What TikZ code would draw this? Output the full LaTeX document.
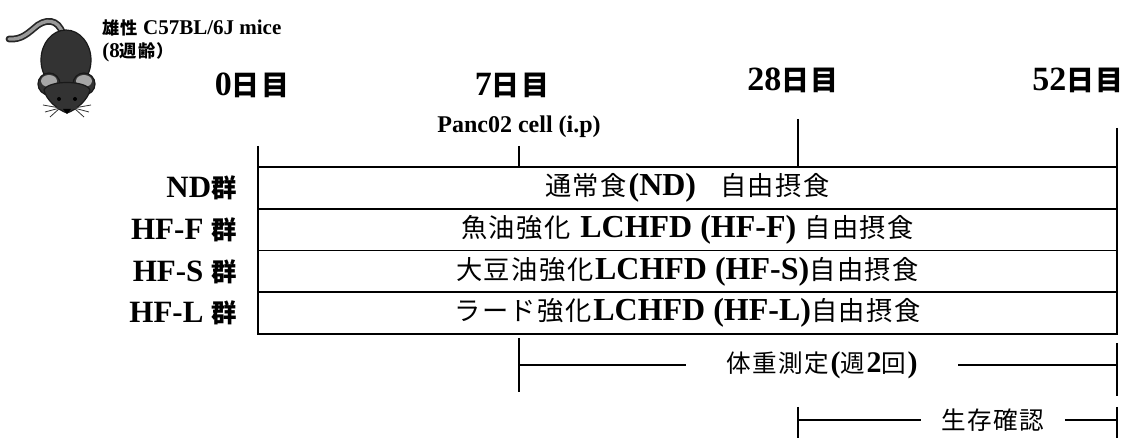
\documentclass[tikz,border=0pt]{standalone}
\usepackage{fontspec}
\setmainfont{Liberation Serif}
\newfontfamily\jp[Scale=0.82, LetterSpace=6]{Noto Sans CJK JP}
\usetikzlibrary{positioning,calc}
\tikzstyle{grp}=[draw=black, line width=0.8pt, minimum width=429.5pt,
        minimum height=20.875pt, inner sep=0pt, outer sep=0pt,
        font=\fontsize{16}{18}\selectfont]
\tikzstyle{day}=[font=\fontsize{17}{20}\selectfont\bfseries, inner sep=0pt]
\tikzstyle{lbl}=[font=\fontsize{15.5}{18}\selectfont\bfseries, inner sep=0pt]
\tikzstyle{tick}=[line width=1.1pt]
\tikzstyle{span}=[line width=0.7pt]
\tikzstyle{note}=[font=\fontsize{15}{17}\selectfont, inner xsep=10pt]
\def\tailpath{(64,40) .. controls (62,22) and (50,17) .. (38,25)
        .. controls (28,33) and (22,40) .. (9,39)}

\begin{document}
\begin{tikzpicture}[x=0.5pt, y=-0.5pt]
        \useasboundingbox (0,0) rectangle (1131,438);

        % mouse
        \draw[line width=3.4pt, line cap=round, black!85] \tailpath;
        \draw[line width=1.7pt, line cap=round, black!40] \tailpath;
        \filldraw[fill=black!80, draw=black!90, line width=0.6pt]
            (66,60) ellipse [x radius=25, y radius=30];
        \foreach \ex in {49,84} {
            \filldraw[fill=black!80, draw=black!90, line width=0.6pt]
                (\ex,84) circle [radius=11];
            \fill[black!35] (\ex,81) ellipse [x radius=8, y radius=6];
        }
        \filldraw[fill=black!80, draw=black!90, line width=0.6pt]
            (44,90) .. controls (46,100) and (58,110) .. (67,113)
            .. controls (76,110) and (88,100) .. (90,90)
            .. controls (86,80) and (48,80) .. (44,90) -- cycle;
        \fill (59,99) circle [radius=2] (75,99) circle [radius=2];
        \fill (63,109) -- (71,109) -- (67,114) -- cycle;
        \foreach \wx/\wy in {43/105, 45/112, 50/117} {
            \draw[black!80, line width=0.4pt] (60,108) -- (\wx,\wy);
            \draw[black!80, line width=0.4pt] (74,108) -- (134-\wx,\wy);
        }
        \node[anchor=north west, align=left, inner sep=0pt,
            font=\fontsize{10.5}{11.5}\selectfont\bfseries] (m) at (102,19)
            {{\jp 雄性} C57BL/6J mice\\(8{\jp 週齢）}};

        % diet groups
        \node[grp] (g1) at (687.5,187.9)
            {{\jp 通常食}\textbf{(ND)}\hspace{12pt}{\jp 自由摂食}};
        \node[grp, below=0pt of g1] (g2)
            {{\jp 魚油強化} \textbf{LCHFD (HF-F)} {\jp 自由摂食}};
        \node[grp, below=0pt of g2] (g3)
            {{\jp 大豆油強化}\textbf{LCHFD (HF-S)}{\jp 自由摂食}};
        \node[grp, below=0pt of g3] (g4)
            {{\jp ラード強化}\textbf{LCHFD (HF-L)}{\jp 自由摂食}};
        \node[lbl, left=10.5pt of g1] (l1) {ND{\jp 群}};
        \node[lbl, left=10.5pt of g2] (l2) {HF-F {\jp 群}};
        \node[lbl, left=10.5pt of g3] (l3) {HF-S {\jp 群}};
        \node[lbl, left=10.5pt of g4] (l4) {HF-L {\jp 群}};

        % days
        \node[day] (d0) at (252,85) {0{\jp 日目}};
        \node[day] (d7) at (512,85) {7{\jp 日目}};
        \node[day] (d28) at (793,80) {28{\jp 日目}};
        \node[day] (d52) at (1078,80) {52{\jp 日目}};
        \node[font=\fontsize{12}{14}\selectfont\bfseries] (p)
            at (519,127) {Panc02 cell (i.p)};
        \coordinate (t0) at (258,146);
        \coordinate (t7) at (519,146);
        \coordinate (t28) at (798,119);
        \coordinate (t52) at (1117,128);
        \draw[tick] (t0) -- (g1.north west);
        \draw[tick] (t7) -- (t7 |- g1.north);
        \draw[tick] (t28) -- (t28 |- g1.north);
        \draw[tick] (t52) -- (g1.north east);

        % body weight
        \node[note, inner xsep=20pt] (wt) at (822,365)
            {{\jp 体重測定}\textbf{(}{\jp 週}\textbf{2}{\jp 回}\textbf{)}};
        \coordinate (wa) at (519,338);
        \coordinate (wb) at (519,392);
        \coordinate (wc) at (1117,343);
        \coordinate (wd) at (1117,396);
        \draw[tick] (wa) -- (wb);
        \draw[tick] (wc) -- (wd);
        \draw[span] (wa |- wt) -- (wt);
        \draw[span] (wt) -- (wc |- wt);

        % survival
        \node[note] (st) at (993,420) {{\jp 生存確認}};
        \coordinate (sa) at (798,407);
        \coordinate (sb) at (798,438);
        \coordinate (sc) at (1117,407);
        \coordinate (sd) at (1117,438);
        \draw[tick] (sa) -- (sb);
        \draw[tick] (sc) -- (sd);
        \draw[span] (sa |- st) -- (st);
        \draw[span] (st) -- (sc |- st);
\end{tikzpicture}
\end{document}
